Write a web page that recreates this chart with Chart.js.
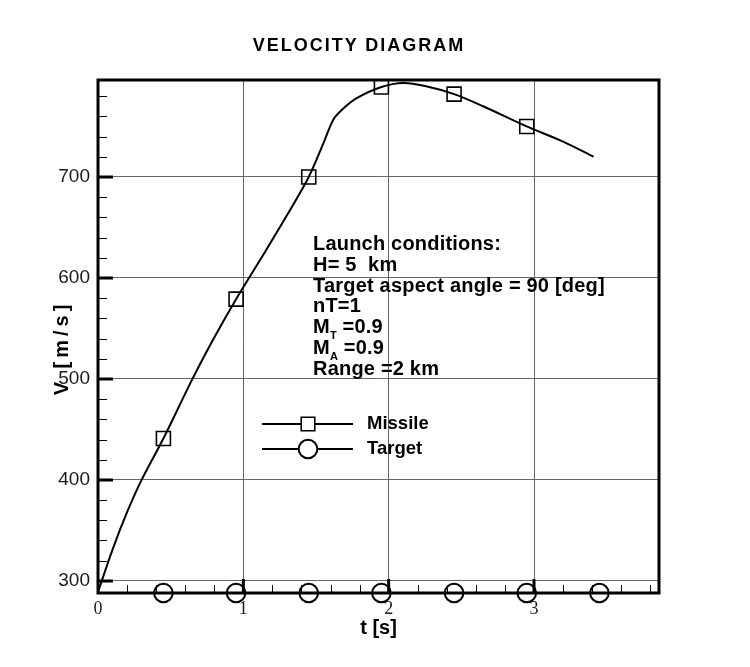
<!DOCTYPE html>
<html>
<head>
<meta charset="utf-8">
<title>Velocity diagram</title>
<script src="https://cdn.jsdelivr.net/npm/chart.js@4.4.0/dist/chart.umd.min.js"></script>
<style>
  html, body { margin: 0; padding: 0; background: #fff; }
  #wrap { position: relative; width: 750px; height: 667px; }
  #title {
    position: absolute; left: 0; width: 718px; top: 35px;
    text-align: center; font: bold 18px "Liberation Sans", Arial, sans-serif; letter-spacing: 2px; color: #000;
  }
  #note {
    position: absolute; left: 313px; top: 233px;
    font: bold 20px/20.8px "Liberation Sans", Arial, sans-serif; letter-spacing: 0.2px; color: #000; white-space: pre;
  }
  #note sub { font-size: 11px; vertical-align: -6px; line-height: 0; }
</style>
</head>
<body>
<div id="wrap">
  <canvas id="chart" width="750" height="667"></canvas>
  <div id="title">VELOCITY DIAGRAM</div>
  <div id="note">Launch conditions:
H= 5  km
Target aspect angle = 90 [deg]
nT=1
M<sub>T</sub> =0.9
M<sub>A</sub> =0.9
Range =2 km</div>
</div>
<script>
// missile velocity curve, t [s] / V [m/s]
const curveTime = [0, 0.1, 0.2, 0.3, 0.45, 0.65, 0.8, 0.95, 1.15, 1.3, 1.45,
  1.55, 1.62, 1.69, 1.78, 1.95, 2.1, 2.25, 2.45, 2.65, 2.95, 3.2, 3.41];
const curveVelocity = [289, 331, 368, 400, 441, 500, 541, 579, 626, 662, 700,
  733, 757, 768, 778, 789, 793, 790, 782, 770, 750, 735, 720];

// symbols drawn on the missile curve
const missileMarkTime = [0.45, 0.95, 1.45, 1.95, 2.45, 2.95];
const missileMarkVelocity = [441, 579, 700, 789, 782, 750];

// target flies at constant speed
const targetLineTime = [0, 3.45];
const targetLineVelocity = [288, 288];
const targetMarkTime = [0.45, 0.95, 1.45, 1.95, 2.45, 2.95, 3.45];
const targetMarkVelocity = [288, 288, 288, 288, 288, 288, 288];

const xTicks = [0, 1, 2, 3];
const yTicks = [300, 400, 500, 600, 700];
const xRange = [0, 3.86];
const yRange = [288, 796];

const legendItems = ['Missile', 'Target'];
const yTitle = 'V [m/s]';

const pts = (xs, ys) => xs.map((x, i) => ({ x: x, y: ys[i] }));

// inside ticks, frame, y title and the little legend
const frameTicks = {
  id: 'frameTicks',
  afterDatasetsDraw(chart) {
    const { ctx, chartArea: a, scales: { x, y } } = chart;
    ctx.save();
    ctx.strokeStyle = '#000';
    ctx.lineWidth = 1;
    ctx.beginPath();
    for (let v = 300; v <= yRange[1]; v += 20) {
      if (v % 100 === 0) continue;
      const py = Math.round(y.getPixelForValue(v)) + 0.5;
      ctx.moveTo(a.left, py); ctx.lineTo(a.left + 9, py);
    }
    for (let k = 1; k * 0.2 < xRange[1]; k++) {
      if (k % 5 === 0) continue;
      const px = Math.round(x.getPixelForValue(k * 0.2)) + 0.5;
      ctx.moveTo(px, a.bottom); ctx.lineTo(px, a.bottom - 8);
    }
    ctx.stroke();

    ctx.lineWidth = 3;
    ctx.beginPath();
    yTicks.forEach(v => {
      const py = y.getPixelForValue(v);
      ctx.moveTo(a.left, py); ctx.lineTo(a.left + 15, py);
    });
    xTicks.forEach(v => {
      if (v === 0) return;
      const px = x.getPixelForValue(v);
      ctx.moveTo(px, a.bottom); ctx.lineTo(px, a.bottom - 14);
    });
    ctx.stroke();

    ctx.lineWidth = 3;
    ctx.strokeRect(a.left, a.top, a.right - a.left, a.bottom - a.top);

    // y axis title
    ctx.save();
    ctx.translate(62, 348);
    ctx.rotate(-Math.PI / 2);
    ctx.fillStyle = '#000';
    ctx.font = 'bold 20px "Liberation Sans", Arial, sans-serif';
    ctx.letterSpacing = '4px';
    ctx.textAlign = 'center';
    ctx.textBaseline = 'middle';
    ctx.fillText(yTitle, 0, 0);
    ctx.restore();

    // legend
    const lx0 = 262, lx1 = 353, mx = 308;
    const rows = [424, 449];
    ctx.lineWidth = 2;
    rows.forEach((ly, i) => {
      ctx.beginPath();
      ctx.moveTo(lx0, ly); ctx.lineTo(lx1, ly);
      ctx.stroke();
      ctx.fillStyle = '#fff';
      ctx.lineWidth = i === 0 ? 1.6 : 2;
      Chart.helpers.drawPoint(ctx, { pointStyle: i === 0 ? 'rect' : 'circle', radius: i === 0 ? 9.6 : 9.3 }, mx, ly);
      ctx.fill();
      ctx.stroke();
      ctx.lineWidth = 2;
      ctx.fillStyle = '#000';
      ctx.font = 'bold 18.5px "Liberation Sans", Arial, sans-serif';
      ctx.textBaseline = 'middle';
      ctx.fillText(legendItems[i], 367, ly);
    });
    ctx.restore();
  }
};

Chart.defaults.font.family = '"Liberation Sans", Arial, sans-serif';
Chart.defaults.color = '#000';

new Chart(document.getElementById('chart'), {
  type: 'scatter',
  data: {
    datasets: [
      {
        label: 'Missile curve',
        data: pts(curveTime, curveVelocity),
        showLine: true,
        borderColor: '#000',
        borderWidth: 2,
        pointRadius: 0,
        tension: 0.3
      },
      {
        label: 'Missile',
        data: pts(missileMarkTime, missileMarkVelocity),
        showLine: false,
        pointStyle: 'rect',
        pointRadius: 9.9,
        pointBorderWidth: 1.6,
        pointBorderColor: '#000',
        pointBackgroundColor: 'rgba(0,0,0,0)'
      },
      {
        label: 'Target line',
        data: pts(targetLineTime, targetLineVelocity),
        showLine: true,
        borderColor: '#000',
        borderWidth: 2,
        pointRadius: 0,
        clip: false
      },
      {
        label: 'Target',
        data: pts(targetMarkTime, targetMarkVelocity),
        showLine: false,
        pointStyle: 'circle',
        pointRadius: 9.3,
        pointBorderWidth: 2,
        pointBorderColor: '#000',
        pointBackgroundColor: 'rgba(0,0,0,0)',
        clip: false
      }
    ]
  },
  options: {
    responsive: false,
    animation: false,
    layout: { padding: { left: 48, right: 91, top: 80, bottom: 24 } },
    plugins: { legend: { display: false }, tooltip: { enabled: false } },
    scales: {
      x: {
        type: 'linear',
        min: xRange[0], max: xRange[1],
        afterBuildTicks: s => { s.ticks = xTicks.map(v => ({ value: v })); },
        afterFit: s => { s.height = 50; },
        grid: { color: '#666', lineWidth: 1, drawTicks: false },
        border: { display: false },
        ticks: { padding: 5, font: { family: '"Liberation Serif", serif', size: 18 }, color: '#1a1a1a', maxRotation: 0 },
        title: { display: true, text: 't [s]', font: { size: 20, weight: 'bold' }, padding: { top: 0, bottom: 3 } }
      },
      y: {
        type: 'linear',
        min: yRange[0], max: yRange[1],
        afterBuildTicks: s => { s.ticks = yTicks.map(v => ({ value: v })); },
        afterFit: s => { s.width = 50; },
        grid: { color: '#666', lineWidth: 1, drawTicks: false },
        border: { display: false },
        ticks: { padding: 8, font: { size: 19 }, color: '#1a1a1a' },
        title: { display: false }
      }
    }
  },
  plugins: [frameTicks]
});
</script>
</body>
</html>
